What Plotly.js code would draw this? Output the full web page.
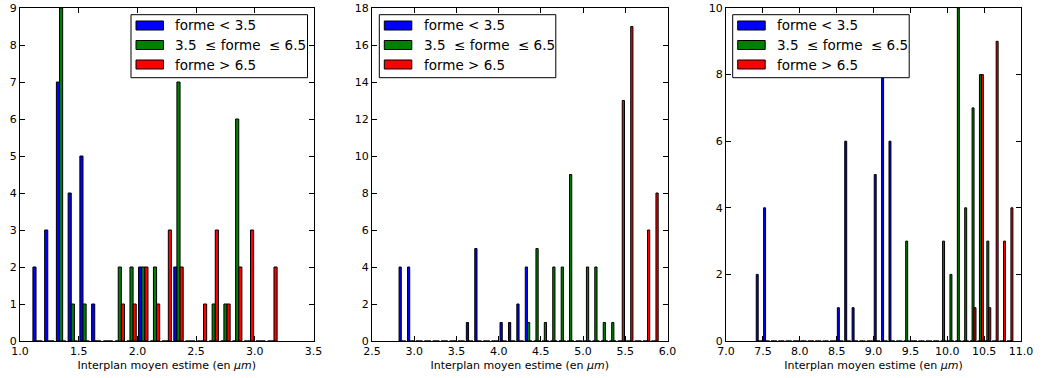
<!DOCTYPE html>
<html><head><meta charset="utf-8">
<script src="https://cdn.plot.ly/plotly-3.0.1.min.js"></script>
<style>html,body{margin:0;padding:0;background:#fff}#chart{width:1042px;height:378px}</style>
</head><body><div id="chart"></div>
<script>
const seriesNames = ['forme < 3.5', '3.5\u00a0 \u2264 forme\u00a0 \u2264 6.5', 'forme > 6.5'];
const seriesColors = ['#0000ff', '#008000', '#ff0000'];
const xTitle = 'Interplan moyen estime (en <i>\u03bcm</i>)';

// Panel 1 : bin centres and counts
const bins1 = [1.15,1.25,1.35,1.45,1.55,1.65,1.75,1.85,1.95,2.05,2.15,2.25,2.35,2.45,2.55,2.65,2.75,2.85,2.95,3.05,3.15];
const low1  = [2,3,7,4,5,1,0,0,0,2,0,0,2,0,0,0,0,0,0,0,0];
const mid1  = [0,0,9,1,1,0,0,2,2,2,2,0,7,0,0,1,1,6,0,0,0];
const high1 = [0,0,0,0,0,0,0,1,1,2,1,3,2,0,1,3,1,2,3,0,2];

// Panel 2
const bins2 = [2.860,2.960,3.059,3.159,3.259,3.358,3.458,3.558,3.657,3.757,3.857,3.956,4.056,4.156,4.255,4.355,4.455,4.554,4.654,4.754,4.853,4.953,5.053,5.152,5.252,5.352,5.451,5.551,5.651,5.750,5.850];
const low2  = [4,4,0,0,0,0,0,0,1,5,0,0,1,1,2,4,0,0,0,0,0,0,0,0,0,0,0,0,0,0,0];
const mid2  = [0,0,0,0,0,0,0,0,0,0,0,0,0,0,0,1,5,1,4,4,9,0,4,4,1,1,0,0,0,0,0];
const high2 = [0,0,0,0,0,0,0,0,0,0,0,0,0,0,0,0,0,0,0,0,0,0,0,0,0,0,13,17,0,6,8];

// Panel 3
const bins3 = [7.45,7.55,7.65,7.75,7.85,7.95,8.05,8.15,8.25,8.35,8.45,8.55,8.65,8.75,8.85,8.95,9.05,9.15,9.25,9.35,9.45,9.55,9.65,9.75,9.85,9.95,10.05,10.15,10.25,10.35,10.45,10.55,10.65,10.75,10.85];
const low3  = [2,4,0,0,0,0,0,0,0,0,0,1,6,1,0,0,5,8,6,0,0,0,0,0,0,0,0,0,0,0,0,0,0,0,0];
const mid3  = [0,0,0,0,0,0,0,0,0,0,0,0,0,0,0,0,0,0,0,0,3,0,0,0,0,3,2,10,4,7,8,3,0,0,0];
const high3 = [0,0,0,0,0,0,0,0,0,0,0,0,0,0,0,0,0,0,0,0,0,0,0,0,0,0,0,0,0,1,8,1,9,3,4];

const xRanges = [[1.0, 3.5], [2.5, 6.0], [7.0, 11.0]];
const yRanges = [[0, 9], [0, 18], [0, 10]];
const yDtick = [1, 2, 2];

const panels = [
  {bins: bins1, series: [low1, mid1, high1]},
  {bins: bins2, series: [low2, mid2, high2]},
  {bins: bins3, series: [low3, mid3, high3]}
];

const FONT = 'DejaVu Sans, Liberation Sans, sans-serif';
const traces = [];
panels.forEach((p, pi) => {
  const sfx = pi === 0 ? '' : String(pi + 1);
  p.series.forEach((vals, si) => {
    traces.push({
      type: 'bar', x: p.bins, y: vals, name: seriesNames[si],
      xaxis: 'x' + sfx, yaxis: 'y' + sfx,
      showlegend: false,
      marker: {color: seriesColors[si], line: {color: '#000', width: 1}},
      hoverinfo: 'x+y'
    });
  });
});

const W = 1042, H = 378, MT = 8, MB = 37;
const PH = H - MT - MB;
const px2x = v => v / W;
const px2y = v => 1 - (v - MT) / PH;
const domains = [[20 / W, 313.5 / W], [372 / W, 667.5 / W], [726 / W, 1021 / W]];

const layout = {
  width: W, height: H,
  margin: {l: 0, r: 0, t: MT, b: MB},
  paper_bgcolor: '#fff', plot_bgcolor: '#fff',
  font: {family: FONT, size: 11, color: '#000'},
  barmode: 'group', bargap: 0.2, bargroupgap: 0,
  showlegend: false,
  shapes: [], annotations: []
};

const axBase = {
  showline: true, linecolor: '#000', linewidth: 1, mirror: 'ticks',
  ticks: 'inside', ticklen: 5, tickwidth: 1, tickcolor: '#000',
  showgrid: false, zeroline: false, automargin: false,
  tickfont: {family: FONT, size: 11, color: '#000'}
};

// legend boxes (left edge in px), drawn as a key in each panel
const legendLeft = [131, 379.3, 732.7];
const legTop = 14.7, legW = 176.5, legH = 63;
const patchTop = [6.3, 25.8, 45.3], patchH = 9, patchX = 5, patchW = 27.5, textX = 42.5;
const textMid = [10.8, 30.4, 50.0];

for (let i = 0; i < 3; i++) {
  const sfx = i === 0 ? '' : String(i + 1);
  layout['xaxis' + sfx] = Object.assign({}, axBase, {
    domain: domains[i], range: xRanges[i], dtick: 0.5, tick0: 0, tickformat: '.1f',
    anchor: 'y' + sfx,
    title: {text: xTitle, font: {family: FONT, size: 11, color: '#000'}, standoff: 4}
  });
  layout['yaxis' + sfx] = Object.assign({}, axBase, {
    domain: [0, 1], range: yRanges[i], dtick: yDtick[i], tick0: 0,
    anchor: 'x' + sfx
  });
  const L = legendLeft[i];
  layout.shapes.push({
    type: 'rect', xref: 'paper', yref: 'paper', layer: 'above',
    x0: px2x(L), x1: px2x(L + legW), y0: px2y(legTop), y1: px2y(legTop + legH),
    fillcolor: '#fff', line: {color: '#000', width: 1}
  });
  for (let s = 0; s < 3; s++) {
    layout.shapes.push({
      type: 'rect', xref: 'paper', yref: 'paper', layer: 'above',
      x0: px2x(L + patchX), x1: px2x(L + patchX + patchW),
      y0: px2y(legTop + patchTop[s]), y1: px2y(legTop + patchTop[s] + patchH),
      fillcolor: seriesColors[s], line: {color: '#000', width: 1}
    });
    layout.annotations.push({
      xref: 'paper', yref: 'paper', x: px2x(L + textX), y: px2y(legTop + textMid[s]),
      xanchor: 'left', yanchor: 'middle', showarrow: false, text: seriesNames[s],
      font: {family: FONT, size: 13.5, color: '#000'}
    });
  }
}

Plotly.newPlot('chart', traces, layout, {displayModeBar: false, staticPlot: true});
</script>
</body></html>
